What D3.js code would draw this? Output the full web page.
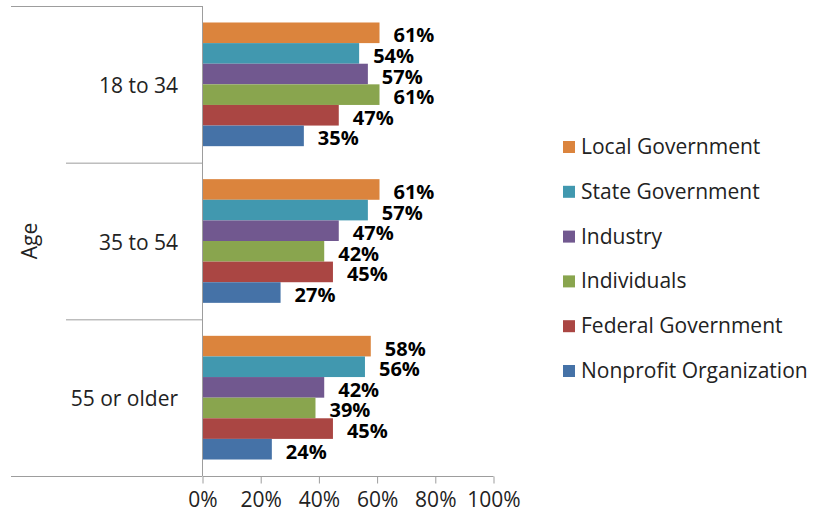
<!DOCTYPE html>
<html><head><meta charset="utf-8">
<script src="https://cdn.jsdelivr.net/npm/d3@7"></script>
<style>
html,body{margin:0;padding:0;background:#fff;}
svg{display:block;font-family:"Open Sans",sans-serif;}
</style></head>
<body>
<svg id="chart" width="814" height="521"></svg>
<script>
const categories = ["18 to 34", "35 to 54", "55 or older"];
const seriesNames = ["Local Government", "State Government", "Industry", "Individuals", "Federal Government", "Nonprofit Organization"];
const seriesColors = ["#DB843D", "#4198AF", "#71588F", "#89A54E", "#AA4643", "#4572A7"];
const localGovernment = [61, 61, 58];
const stateGovernment = [54, 57, 56];
const industry = [57, 47, 42];
const individuals = [61, 42, 39];
const federalGovernment = [47, 45, 45];
const nonprofitOrganization = [35, 27, 24];
const tickValues = [0, 20, 40, 60, 80, 100];
const axisTitle = "Age";

const seriesValues = [localGovernment, stateGovernment, industry, individuals, federalGovernment, nonprofitOrganization];

const svg = d3.select("#chart");
const x0 = 202, x1 = 493, yTop = 6, yBot = 476;
const x = d3.scaleLinear().domain([0, 100]).range([x0, x1]);
const y = d3.scaleBand().domain(categories).range([yTop, yBot]).paddingInner(0).paddingOuter(0);
const ySub = d3.scaleBand().domain(seriesNames).range([0, y.bandwidth()]).paddingInner(0).paddingOuter(0.8);
const lineColor = "#9d9d9d";

// bars
const groups = svg.append("g").selectAll("g").data(categories).join("g")
  .attr("transform", d => `translate(0,${y(d)})`);
seriesNames.forEach((s, si) => {
  groups.append("rect")
    .attr("x", x(0))
    .attr("y", ySub(s))
    .attr("width", (d, ci) => x(seriesValues[si][ci]) - x(0))
    .attr("height", ySub.bandwidth())
    .attr("fill", seriesColors[si]);
  groups.append("text")
    .attr("x", (d, ci) => x(seriesValues[si][ci]) + 14)
    .attr("y", ySub(s) + ySub.bandwidth() / 2 + 9.5)
    .attr("font-size", 20).attr("font-weight", "bold").attr("fill", "#000")
    .text((d, ci) => seriesValues[si][ci] + "%");
});

// category separators
const bounds = [yTop, ...categories.slice(1).map(c => y(c)), yBot];
svg.append("g").selectAll("line").data(bounds).join("line")
  .attr("x1", (d, i) => (i === 0 || i === bounds.length - 1) ? 11 : 66)
  .attr("x2", x0)
  .attr("y1", d => d + 0.5).attr("y2", d => d + 0.5)
  .attr("stroke", lineColor).attr("stroke-width", 1);

// vertical axis line
svg.append("line").attr("x1", x0 + 0.5).attr("x2", x0 + 0.5).attr("y1", yTop).attr("y2", yBot)
  .attr("stroke", lineColor);

// x axis
const xAxis = d3.axisBottom(x).tickValues(tickValues).tickSize(7).tickPadding(9)
  .tickFormat(d => d + "%");
const gx = svg.append("g").attr("transform", `translate(0.5,${yBot + 0.5})`).call(xAxis);
gx.select(".domain").attr("stroke", lineColor).attr("d", `M${x0},0H${x1}`);
gx.selectAll(".tick line").attr("stroke", lineColor);
gx.selectAll(".tick text").attr("font-size", 21).attr("fill", "#222")
  .attr("font-family", "Open Sans");

// category labels
svg.append("g").selectAll("text").data(categories).join("text")
  .attr("x", 178).attr("y", d => y(d) + y.bandwidth() / 2 + 8.5)
  .attr("text-anchor", "end").attr("font-size", 21).attr("fill", "#222")
  .text(d => d);

// axis title
svg.append("text").attr("transform", `translate(37,${(yTop + yBot) / 2}) rotate(-90)`)
  .attr("text-anchor", "middle").attr("font-size", 21).attr("fill", "#222")
  .text(axisTitle);

// legend
const lg = svg.append("g").selectAll("g").data(seriesNames).join("g")
  .attr("transform", (d, i) => `translate(563,${147 + i * 44.8})`);
lg.append("rect").attr("x", 0).attr("y", -6).attr("width", 12).attr("height", 12)
  .attr("fill", (d, i) => seriesColors[i]);
lg.append("text").attr("x", 18).attr("y", 7).attr("font-size", 21).attr("fill", "#222")
  .text(d => d);
</script>
</body></html>
